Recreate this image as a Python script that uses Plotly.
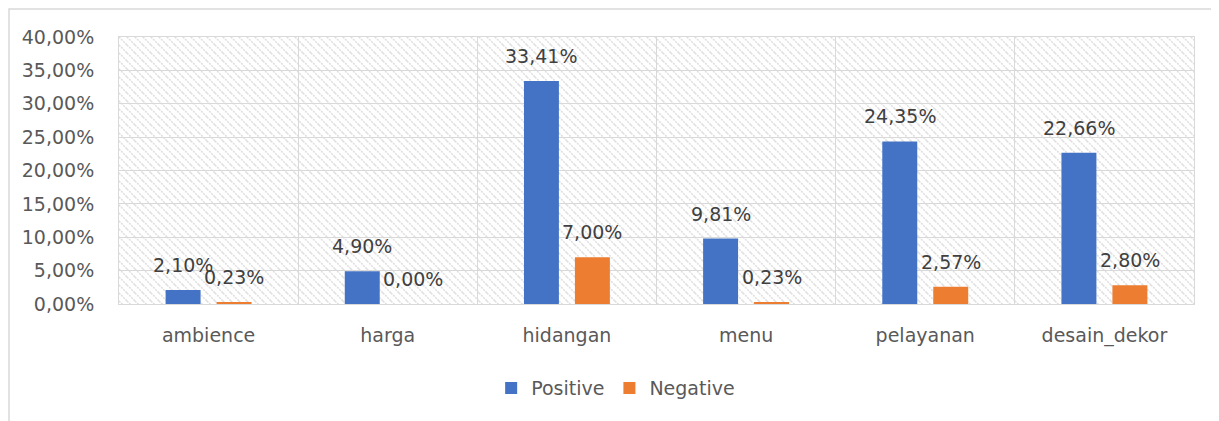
import base64
import plotly.graph_objects as go

categories = ["ambience", "harga", "hidangan", "menu", "pelayanan", "desain_dekor"]
positive = [0.0210, 0.0490, 0.3341, 0.0981, 0.2435, 0.2266]
negative = [0.0023, 0.0000, 0.0700, 0.0023, 0.0257, 0.0280]
series_names = ["Positive", "Negative"]

FONT = "DejaVu Sans"
GRID = "#d9d9d9"
# page body has an 8px margin; compensate so the plot lands where the reference has it
OFF = 8
L, T = 119 - OFF, 37 - OFF
PW, PH = 1075, 267
W, H = 1219, 421
R = W - L - PW
B = H - T - PH

svg = ('<svg xmlns="http://www.w3.org/2000/svg" width="1075" height="267">'
       '<defs><pattern id="p" width="8" height="8" patternUnits="userSpaceOnUse">'
       '<path d="M0,0 L8,8 M-1,7 L1,9 M7,-1 L9,1" stroke="#dedede" stroke-width="1.5" '
       'stroke-dasharray="2,1"/>'
       '</pattern></defs><rect width="100%" height="100%" fill="url(#p)"/></svg>')
svg_uri = "data:image/svg+xml;base64," + base64.b64encode(svg.encode()).decode()


def pct(v):
    return f"{v * 100:.2f}%".replace(".", ",")


fig = go.Figure()
annotations = []
for name, vals, color, shift in [(series_names[0], positive, "#4472C4", -25.5),
                                 (series_names[1], negative, "#ED7D31", 25.5)]:
    fig.add_trace(go.Bar(
        x=categories, y=vals, name=name, marker=dict(color=color, line=dict(width=0)),
    ))
    for c, v in zip(categories, vals):
        annotations.append(dict(
            x=c, y=v, xref="x", yref="y", text=pct(v), showarrow=False,
            xanchor="center", yanchor="middle", xshift=shift, yshift=25,
            font=dict(family=FONT, size=19, color="#404040"),
        ))

fig.update_layout(
    width=W, height=H,
    margin=dict(l=L, r=R, t=T, b=B, autoexpand=False),
    paper_bgcolor="white", plot_bgcolor="white",
    separators=",.",
    barmode="group", bargap=0.431, bargroupgap=0.314,
    font=dict(family=FONT, size=19, color="#595959"),
    showlegend=True,
    legend=dict(orientation="h", x=0.462, xanchor="center", y=-0.315, yanchor="middle",
                font=dict(family=FONT, size=19, color="#595959"),
                traceorder="normal"),
    xaxis=dict(type="category", tickson="boundaries", showgrid=True, gridcolor=GRID,
               gridwidth=1, showline=True, linecolor=GRID, linewidth=1, mirror=True,
               ticks="", ticklabelstandoff=14, range=[-0.5, 5.5]),
    yaxis=dict(range=[0, 0.40], dtick=0.05, tickformat=".2%", showgrid=True,
               gridcolor=GRID, gridwidth=1, showline=True, linecolor=GRID, linewidth=1,
               mirror=True, zeroline=False, ticks="", ticklabelstandoff=20),
    images=[dict(source=svg_uri, xref="paper", yref="paper", x=0, y=1, sizex=1, sizey=1,
                 xanchor="left", yanchor="top", sizing="stretch", layer="below")],
    annotations=annotations,
    shapes=[dict(type="rect", xref="paper", yref="paper",
                 x0=(1 - L) / PW, x1=(W + 20 - L) / PW,
                 y0=-(B + 20) / PH, y1=1 + (T - 1) / PH,
                 line=dict(color="#d9d9d9", width=1.5),
                 fillcolor="rgba(0,0,0,0)", layer="below")],
)

fig.write_html("out.html")
